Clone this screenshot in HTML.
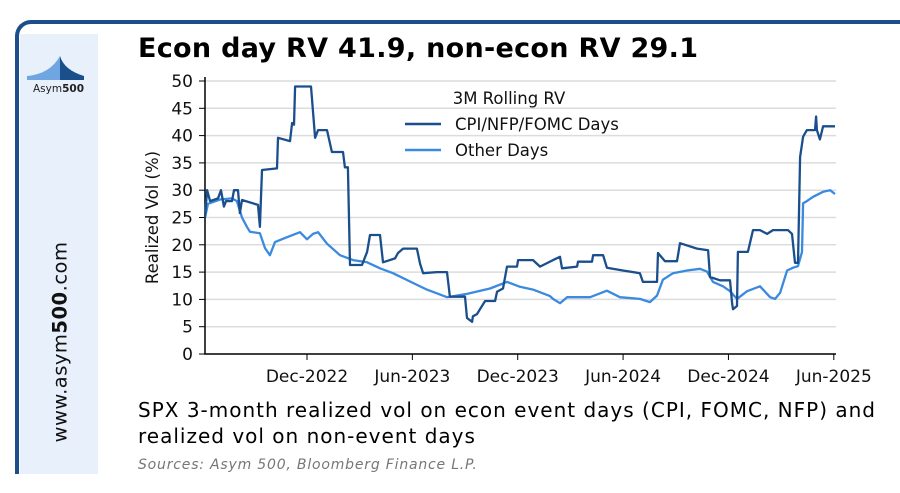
<!DOCTYPE html>
<html><head><meta charset="utf-8">
<style>
body{margin:0;width:900px;height:493px;background:#fff;overflow:hidden;font-family:"DejaVu Sans","Liberation Sans",sans-serif;}
.abs{position:absolute;}
</style></head>
<body>
<div class="abs" style="left:15px;top:20px;width:900px;height:454px;border-top:4px solid #1b4f8c;border-left:4px solid #1b4f8c;border-top-left-radius:16px;box-sizing:border-box;"></div>
<div class="abs" style="left:20px;top:34px;width:78px;height:440px;background:#e8f0fb;"></div>
<svg class="abs" style="left:20px;top:50px" width="78" height="45">
<path d="M7,30 L7,26 Q30,24 40,6 L40,30 Z" fill="#6fa5e0"/>
<path d="M40,6 Q44,20 64,26 L64,30 L40,30 Z" fill="#1b4f8c"/>
<text x="13" y="42" font-size="10.5" fill="#222" font-family="DejaVu Sans,sans-serif">Asym<tspan font-weight="bold">500</tspan></text>
</svg>
<div class="abs" style="left:60px;top:342px;transform:translate(-50%,-50%) rotate(-90deg);white-space:nowrap;font-size:19.5px;letter-spacing:0.5px;color:#111;">www.asym<b>500</b>.com</div>
<div class="abs" style="left:138px;top:33px;font-size:27px;letter-spacing:0.3px;font-weight:bold;color:#000;white-space:nowrap;">Econ day RV 41.9, non-econ RV 29.1</div>
<svg class="abs" id="chart" style="left:0;top:0" width="900" height="400"></svg>
<div class="abs" style="left:138px;top:397px;font-size:20px;letter-spacing:1px;line-height:26px;color:#000;white-space:nowrap;">SPX 3-month realized vol on econ event days (CPI, FOMC, NFP) and<br>realized vol on non-event days</div>
<div class="abs" style="left:138px;top:457px;font-size:14px;letter-spacing:0.8px;font-style:italic;color:#777;white-space:nowrap;">Sources: Asym 500, Bloomberg Finance L.P.</div>
<script>
const yTicks=[0,5,10,15,20,25,30,35,40,45,50];
const xTickLabels=["Dec-2022","Jun-2023","Dec-2023","Jun-2024","Dec-2024","Jun-2025"];
const xTickMonths=[6,12,18,24,30,36];
const econMonths=[0.19,0.31,0.48,0.93,1.10,1.27,1.39,1.73,1.84,2.07,2.18,2.30,3.21,3.32,3.44,4.29,4.35,5.03,5.15,5.26,5.32,6.23,6.46,6.63,7.14,7.42,8.05,8.16,8.33,8.45,9.13,9.42,9.59,10.16,10.33,11.01,11.18,11.47,12.26,12.44,12.61,13.40,13.97,14.14,15.00,15.11,15.40,15.45,15.68,15.85,16.14,16.71,16.82,17.16,17.39,17.96,18.02,18.87,19.27,20.01,20.41,20.52,21.38,21.43,22.23,22.29,22.86,23.08,23.99,24.96,25.13,25.93,25.99,26.39,27.07,27.24,28.21,28.84,28.95,29.52,30.09,30.21,30.26,30.49,30.54,31.11,31.40,31.80,32.20,32.54,33.39,33.62,33.79,33.96,34.08,34.25,34.47,34.93,34.99,35.04,35.21,35.39,36.07];
const econValues=[25,30,28,28.5,30,27,28,28,30,30,25.8,28.2,27.3,23.3,33.7,34,39.6,39,42.3,42,49,49,39.6,41,41,37,37,34.2,34.2,16.3,16.3,18.7,21.8,21.8,16.8,17.5,18.5,19.3,19.3,16.5,14.8,15,15,10.5,10.5,6.6,5.9,6.9,7.3,8.2,9.7,9.7,11.4,12,16,16,17.2,17.2,16,17.2,17.8,15.7,16,16.9,16.9,18.1,18.1,15.8,15.3,14.8,13.2,13.2,18.5,17,17,20.3,19.3,19,14.1,13.5,13.5,9.3,8.2,8.8,18.7,18.7,22.7,22.7,22,22.7,22.7,22,16.7,16.7,36.1,39.8,41,41,43.5,41,39.3,41.7,41.7];
const otherMonths=[0.19,0.36,1.05,1.73,2.01,2.30,2.58,2.75,3.32,3.61,3.89,4.18,4.86,5.60,6.00,6.34,6.63,7.14,7.88,8.62,9.42,10.16,10.90,12.04,12.83,13.97,15.11,16.42,17.39,18.13,18.87,19.84,20.01,20.41,20.81,22.12,23.08,23.82,24.96,25.53,25.93,26.27,26.84,27.64,28.38,28.78,29.12,29.69,30.09,30.49,31.06,31.80,32.37,32.66,32.94,33.34,33.68,33.96,34.19,34.25,34.47,34.82,35.39,35.79,36.07];
const otherValues=[25,27.5,28.3,28.5,28,25,23.3,22.4,22.1,19.4,18.1,20.5,21.4,22.3,21,22,22.3,20.2,18.1,17.2,16.8,15.7,14.8,13,11.8,10.4,11,12,13.2,12.3,11.8,10.6,10.1,9.3,10.4,10.4,11.6,10.4,10.1,9.5,10.7,13.6,14.8,15.3,15.6,15.1,13.2,12.4,11.5,10.1,11.5,12.4,10.4,10.1,11.2,15.3,15.8,16.1,18.7,27.6,28,28.8,29.7,30,29.3];

const svg=document.getElementById('chart');
const NS='http://www.w3.org/2000/svg';
const L=205,R=836,T=81,B=354;
function xs(m){return 307+(m-6)*17.56;}
function ys(v){return B-(v/50)*(B-T);}
function mk(tag,attrs){const e=document.createElementNS(NS,tag);for(const k in attrs)e.setAttribute(k,attrs[k]);svg.appendChild(e);return e;}
yTicks.forEach(v=>{
  if(v>0){const g=mk('line',{x1:L,x2:R,y1:ys(v),y2:ys(v),stroke:'#dcdcdc','stroke-width':1.5});
  
  }
  const t=mk('line',{x1:L-6,x2:L,y1:ys(v),y2:ys(v),stroke:'#000','stroke-width':1});
  
  
  const lb=mk('text',{x:L-12,y:ys(v)+6,'text-anchor':'end','font-size':17,fill:'#111','font-family':'DejaVu Sans,sans-serif'});
  lb.textContent=v;
  
  
});
xTickMonths.forEach((m,i)=>{
  const t=mk('line',{x1:xs(m),x2:xs(m),y1:B,y2:B+6,stroke:'#000','stroke-width':1});
  
  
  const lb=mk('text',{x:xs(m),y:B+28,'text-anchor':'middle','font-size':17,fill:'#111','font-family':'DejaVu Sans,sans-serif'});
  lb.textContent=xTickLabels[i];
  
  
});
const ax=mk('path',{d:`M${L},${T-4}L${L},${B}L${R},${B}`,fill:'none',stroke:'#000','stroke-width':1.5});


const yt=mk('text',{x:0,y:0,transform:`translate(158,${(T+B)/2}) rotate(-90)`,'text-anchor':'middle','font-size':16.5,fill:'#111','font-family':'DejaVu Sans,sans-serif'});
yt.textContent='Realized Vol (%)';


function line(ms,vs,color,name){
  const p=mk('polyline',{points:ms.map((m,i)=>xs(m).toFixed(1)+','+ys(vs[i]).toFixed(1)).join(' '),fill:'none',stroke:color,'stroke-width':2.3,'stroke-linejoin':'round'});
  
  
}
line(otherMonths,otherValues,'#3a8ae0','other-days-line');
line(econMonths,econValues,'#1b4f8c','econ-days-line');
const lt=mk('text',{x:509,y:104,'text-anchor':'middle','font-size':16.5,fill:'#111','font-family':'DejaVu Sans,sans-serif'});
lt.textContent='3M Rolling RV';


[['CPI/NFP/FOMC Days','#1b4f8c',124],['Other Days','#3a8ae0',150]].forEach(([txt,c,y])=>{
  const l=mk('line',{x1:405,x2:441,y1:y,y2:y,stroke:c,'stroke-width':2.5});
  
  
  const t=mk('text',{x:455,y:y+6,'font-size':16.5,fill:'#111','font-family':'DejaVu Sans,sans-serif'});
  t.textContent=txt;
  
  
});
</script>
</body></html>
